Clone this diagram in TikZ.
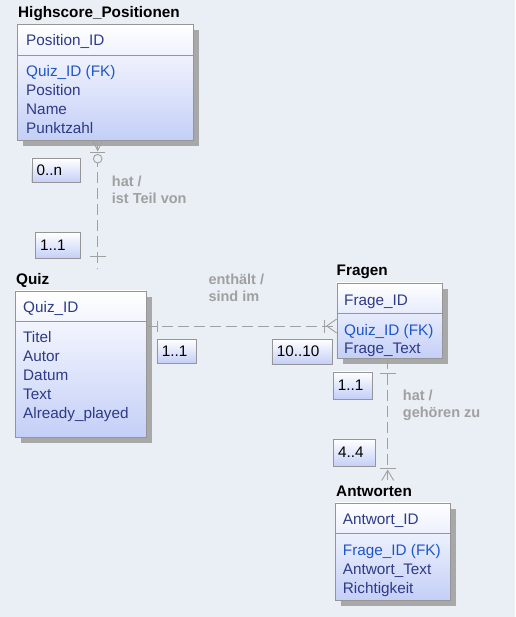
\documentclass[tikz,border=0pt]{standalone}
\usepackage{fontspec}
\setmainfont{Liberation Sans}
\usepackage{tikz}
\usetikzlibrary{shadows,calc}

\definecolor{bgblue}{RGB}{233,239,245}
\definecolor{entblue}{RGB}{196,207,247}
\definecolor{attrcol}{RGB}{45,58,135}
\definecolor{fkcol}{RGB}{30,86,200}
\definecolor{relgray}{RGB}{160,160,160}
\definecolor{framegray}{RGB}{150,150,150}
\definecolor{shadegray}{RGB}{168,168,168}

\tikzset{
  entity/.style={draw=framegray, top color=white, bottom color=entblue,
    anchor=north west, inner sep=0pt,
    drop shadow={shadow xshift=6pt, shadow yshift=-6pt, fill=shadegray, opacity=1}},
  enttitle/.style={anchor=base west, inner sep=0pt, outer ysep=5pt,
    font=\bfseries\fontsize{15.3}{18}\selectfont},
  attr/.style={anchor=base west, inner sep=0pt, text=attrcol,
    font=\fontsize{15.3}{18}\selectfont},
  fk/.style={attr, text=fkcol},
  divline/.style={draw=framegray},
  card/.style={draw=framegray, top color=white, bottom color=entblue,
    anchor=north west, inner xsep=5pt, inner ysep=0pt, align=left,
    text width=#1, font=\fontsize{15.3}{18}\selectfont},
  rellabel/.style={anchor=base west, inner sep=0pt, align=left, text=relgray,
    font=\bfseries\fontsize{14.5}{17}\selectfont},
  rel/.style={draw=relgray, line width=0.9pt, dash pattern=on 11pt off 5pt},
  relmark/.style={draw=relgray, line width=0.9pt}
}

\begin{document}
\begin{tikzpicture}[x=1pt, y=-1pt]
  \useasboundingbox (0,0) rectangle (515,617);
  \fill[bgblue] (0,0) rectangle (515,617);

  % Highscore_Positionen
  \node[enttitle] (hpt) at (18,17.5) {Highscore\_Positionen};
  \node[entity, minimum width=176pt, minimum height=116pt] (hp) at (17,24) {};
  \draw[divline] (hp.west |- 0,55) -- (hp.east |- 0,55);
  \node[attr] (hp1) at (26,45.5)  {Position\_ID};
  \node[fk]   (hp2) at (26,77)    {Quiz\_ID (FK)};
  \node[attr] (hp3) at (26,95.8)  {Position};
  \node[attr] (hp4) at (26,114.5) {Name};
  \node[attr] (hp5) at (26,133.3) {Punktzahl};

  % Quiz
  \node[enttitle] (quizt) at (16,284.7) {Quiz};
  \node[entity, minimum width=130.7pt, minimum height=146pt] (quiz) at (15,290.7) {};
  \draw[divline] (quiz.west |- 0,321) -- (quiz.east |- 0,321);
  \node[attr] (q1) at (23,312.3) {Quiz\_ID};
  \node[attr] (q2) at (23,342.7) {Titel};
  \node[attr] (q3) at (23,361.5) {Autor};
  \node[attr] (q4) at (23,380.5) {Datum};
  \node[attr] (q5) at (23,399.5) {Text};
  \node[attr] (q6) at (23,418.3) {Already\_played};

  % Fragen
  \node[enttitle] (fragent) at (336.5,275.7) {Fragen};
  \node[entity, minimum width=105pt, minimum height=75.3pt] (fragen) at (336.7,282.7) {};
  \draw[divline] (fragen.west |- 0,312.7) -- (fragen.east |- 0,312.7);
  \node[attr] (f1) at (344,305)   {Frage\_ID};
  \node[fk]   (f2) at (344,335)   {Quiz\_ID (FK)};
  \node[attr] (f3) at (344,353.7) {Frage\_Text};

  % Antworten
  \node[enttitle] (antwt) at (336,496) {Antworten};
  \node[entity, minimum width=115pt, minimum height=97.3pt] (antw) at (335,502.7) {};
  \draw[divline] (antw.west |- 0,532.7) -- (antw.east |- 0,532.7);
  \node[attr] (a1) at (342.7,524.3) {Antwort\_ID};
  \node[fk]   (a2) at (342.7,555)   {Frage\_ID (FK)};
  \node[attr] (a3) at (342.7,574)   {Antwort\_Text};
  \node[attr] (a4) at (342.7,593)   {Richtigkeit};

  % Beziehungen
  \coordinate (hatx) at (97.7,0);
  \coordinate (enty) at (0,326);
  \coordinate (gehx) at (387.7,0);

  \coordinate (r1a) at (hatx |- hp.south);
  \coordinate (r1b) at (hatx |- quizt.north);
  \draw[rel] (r1a) -- (r1b);
  \draw[relmark] (r1a) ++(-5,0) -- ++(5,10) -- ++(5,-10);
  \draw[relmark] (r1a) ++(-7.5,12.3) -- ++(15,0);
  \draw[relmark, fill=bgblue] (r1a) ++(0,18.3) circle (4.3);
  \draw[relmark] (r1b) ++(-8,-12) -- ++(16,0);

  \coordinate (r2a) at (quiz.east |- enty);
  \coordinate (r2b) at (fragen.west |- enty);
  \draw[rel] (r2a) -- (r2b);
  \draw[relmark] (r2a) ++(11,-5.5) -- ++(0,11);
  \draw[relmark] (r2b) ++(-12.4,-6.5) -- ++(0,13);
  \draw[relmark] (r2b) ++(0,-7) -- ++(-10,7) -- ++(10,7);

  \coordinate (r3a) at (gehx |- fragen.south);
  \coordinate (r3b) at (gehx |- antwt.north);
  \draw[rel] (r3a) -- (r3b);
  \draw[relmark] (r3a) ++(-8,14.7) -- ++(16,0);
  \draw[relmark] (r3b) ++(-8,-11.7) -- ++(16,0);
  \draw[relmark] (r3b) ++(-6,0) -- ++(6,-10) -- ++(6,10);

  % Kardinalitaeten
  \node[card=38.5pt, minimum height=24pt] (c0n)   at (31.5,158.5) {0..n};
  \node[card=35pt,   minimum height=25.5pt] (c11a) at (35,232.5) {1..1};
  \node[card=29pt,   minimum height=24pt] (c11b)  at (156.7,339) {1..1};
  \node[card=50pt,   minimum height=25pt] (c1010) at (271.7,339) {10..10};
  \node[card=29pt,   minimum height=27pt] (c11c)  at (332.7,371.7) {1..1};
  \node[card=32pt,   minimum height=27pt] (c44)   at (333,439) {4..4};

  % Rollen
  \node[rellabel] (l1) at (111.7,203.3) {hat /\\ist Teil von};
  \node[rellabel] (l2) at (208.3,301.7) {enthält /\\sind im};
  \node[rellabel] (l3) at (402.7,417.3) {hat /\\gehören zu};
\end{tikzpicture}
\end{document}
